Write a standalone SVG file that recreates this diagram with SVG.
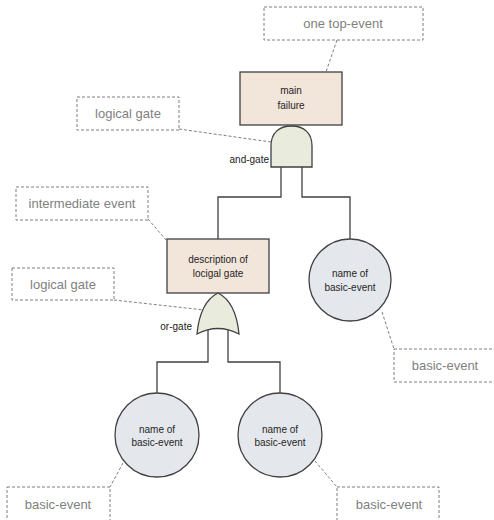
<svg xmlns="http://www.w3.org/2000/svg" width="494" height="520" viewBox="0 0 494 520">
<style>
.callout{fill:#fff;stroke:#7f7f7f;stroke-width:1;stroke-dasharray:3,2}
.leader{fill:none;stroke:#7f7f7f;stroke-width:1;stroke-dasharray:3,2}
.ctext{font-family:"Liberation Sans",Arial,sans-serif;font-size:13px;fill:#7f7f7f;text-anchor:middle}
.ntext{font-family:"Liberation Sans",Arial,sans-serif;font-size:10px;fill:#262626;text-anchor:middle}
.gtext{font-family:"Liberation Sans",Arial,sans-serif;font-size:10px;fill:#1a1a1a;text-anchor:end}
.event{fill:#f2e5da;stroke:#404040;stroke-width:1.3}
.gate{fill:#e9ecdc;stroke:#404040;stroke-width:1.3}
.basic{fill:#e4e8ec;stroke:#404040;stroke-width:1.3}
.conn{fill:none;stroke:#404040;stroke-width:1.3}
</style>
<rect width="494" height="520" fill="#fff"/>
<g id="connectors">
<polyline class="conn" points="281,167 281,197 218,197 218,239"/>
<polyline class="conn" points="302,167 302,197 350,197 350,239"/>
<polyline class="conn" points="208,329 208,362 157,362 157,393"/>
<polyline class="conn" points="228,329 228,362 280,362 280,393"/>
</g>
<g id="callouts">
<g id="callout-top">
<rect class="callout" x="264" y="7" width="159" height="33"/>
<text class="ctext" x="343" y="28">one top-event</text>
<line class="leader" x1="337" y1="40" x2="326" y2="72"/>
</g>
<g id="callout-and">
<rect class="callout" x="77" y="97" width="102" height="33"/>
<text class="ctext" x="128" y="118">logical gate</text>
<line class="leader" x1="179" y1="129" x2="271" y2="142"/>
</g>
<g id="callout-intermediate">
<rect class="callout" x="16" y="187" width="132" height="33"/>
<text class="ctext" x="82" y="208">intermediate event</text>
<line class="leader" x1="148" y1="219" x2="167" y2="241"/>
</g>
<g id="callout-or">
<rect class="callout" x="12" y="268" width="102" height="32"/>
<text class="ctext" x="63" y="289">logical gate</text>
<line class="leader" x1="114" y1="300" x2="204" y2="310"/>
</g>
<g id="callout-basic-right">
<rect class="callout" x="394" y="349" width="110" height="33"/>
<text class="ctext" x="445" y="370">basic-event</text>
<line class="leader" x1="382" y1="312" x2="394" y2="349"/>
</g>
<g id="callout-basic-left">
<rect class="callout" x="7" y="487" width="103" height="40"/>
<text class="ctext" x="58" y="509">basic-event</text>
<line class="leader" x1="123" y1="463" x2="110" y2="487"/>
</g>
<g id="callout-basic-mid">
<rect class="callout" x="337" y="487" width="102" height="40"/>
<text class="ctext" x="389" y="509">basic-event</text>
<line class="leader" x1="315" y1="461" x2="337" y2="487"/>
</g>
</g>
<g id="main-failure">
<rect class="event" x="240" y="72" width="102" height="53"/>
<text class="ntext" x="291" y="94">main</text>
<text class="ntext" x="291" y="109">failure</text>
</g>
<g id="and-gate">
<path class="gate" d="M271,167 V146 C271,133 279,126 291.5,126 C304,126 312,133 312,146 V167 Z"/>
<text class="gtext" x="269" y="163">and-gate</text>
</g>
<g id="intermediate-event">
<rect class="event" x="167" y="239" width="102" height="54"/>
<text class="ntext" x="218" y="263">description of</text>
<text class="ntext" x="218" y="277">locigal gate</text>
</g>
<g id="or-gate">
<path class="gate" d="M197,334 C199,313 206,299 218,293 C230,299 237,313 239,334 Q218,323 197,334 Z"/>
<text class="gtext" x="192" y="330">or-gate</text>
</g>
<g id="basic-event-right">
<circle class="basic" cx="350" cy="280" r="41"/>
<text class="ntext" x="350" y="277">name of</text>
<text class="ntext" x="350" y="291">basic-event</text>
</g>
<g id="basic-event-left">
<circle class="basic" cx="157" cy="435" r="42"/>
<text class="ntext" x="157" y="433">name of</text>
<text class="ntext" x="157" y="446">basic-event</text>
</g>
<g id="basic-event-mid">
<circle class="basic" cx="280" cy="435" r="42"/>
<text class="ntext" x="280" y="433">name of</text>
<text class="ntext" x="280" y="446">basic-event</text>
</g>
</svg>
